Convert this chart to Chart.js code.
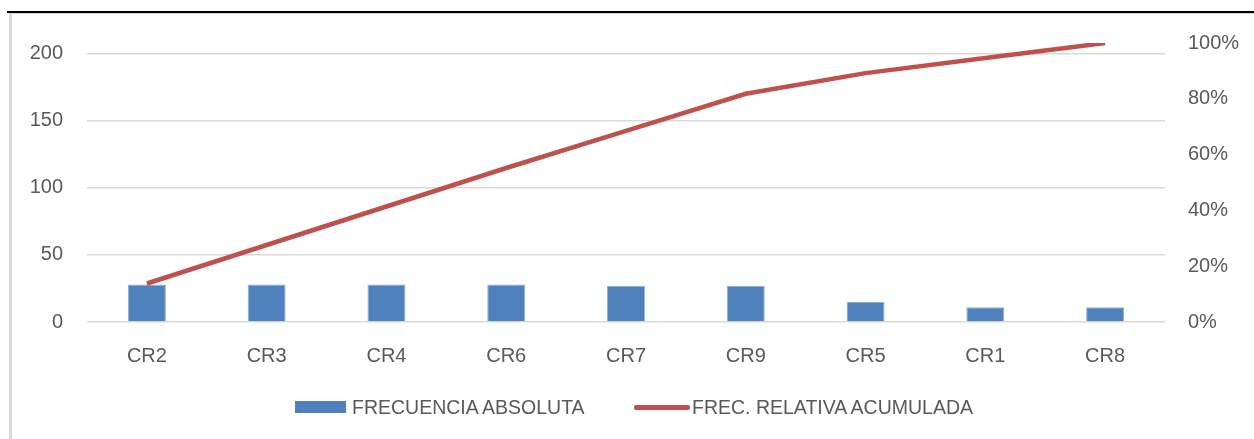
<!DOCTYPE html>
<html>
<head>
<meta charset="utf-8">
<script src="https://cdn.jsdelivr.net/npm/chart.js@4.4.1/dist/chart.umd.min.js"></script>
<style>
  html, body { margin: 0; padding: 0; background: #fff; }
  #wrap { position: relative; width: 1254px; height: 439px; overflow: hidden;
          font-family: 'Liberation Sans', Arial, sans-serif; }
  #frame { position: absolute; left: 9px; top: 12px; width: 1260px; height: 440px;
           border-left: 3px solid #d9d9d9; border-top: 2px solid #d9d9d9; }
  #topline { position: absolute; left: 7px; top: 11px; width: 1250px; height: 2px; background: #000; }
  #chart { position: absolute; left: 0; top: 0; }
  .lg-text { position: absolute; top: 395px; height: 24px; line-height: 24px;
             font-size: 19.5px; color: #595959; white-space: nowrap; }
  .lg-box { position: absolute; }
</style>
</head>
<body>
<div id="wrap">
  <div id="frame"></div>
  <div id="topline"></div>
  <canvas id="chart" width="1254" height="439"></canvas>
  <div id="legend"></div>
</div>
<script>
// data
const categories = ["CR2", "CR3", "CR4", "CR6", "CR7", "CR9", "CR5", "CR1", "CR8"];
const frecAbsoluta = [28, 28, 28, 28, 27, 27, 15, 11, 11];
const frecRelAcum = [0.138, 0.276, 0.414, 0.552, 0.685, 0.818, 0.892, 0.946, 1.0];
const leftTicks = [0, 50, 100, 150, 200];
const rightTicks = [0, 0.2, 0.4, 0.6, 0.8, 1.0];

const FONT = { family: "'Liberation Sans', Arial, sans-serif", size: 20 };
const TEXT = "#595959";

const chart = new Chart(document.getElementById("chart"), {
  data: {
    labels: categories,
    datasets: [
      {
        type: "bar",
        label: "FRECUENCIA ABSOLUTA",
        data: frecAbsoluta,
        backgroundColor: "#4f81bd",
        borderColor: "#8fb0d9",
        borderWidth: 1,
        barPercentage: 0.317,
        categoryPercentage: 1,
        yAxisID: "y",
        order: 1
      },
      {
        type: "line",
        label: "FREC. RELATIVA ACUMULADA",
        data: frecRelAcum,
        borderColor: "#c0504d",
        backgroundColor: "#c0504d",
        borderWidth: 4.5,
        pointRadius: 0,
        tension: 0,
        yAxisID: "y1",
        order: 0
      }
    ]
  },
  options: {
    responsive: false,
    animation: false,
    layout: { padding: { top: 43, bottom: 74, left: 24, right: 0 } },
    plugins: {
      tooltip: { enabled: false },
      legend: { display: false }
    },
    scales: {
      x: {
        offset: true,
        grid: { display: false },
        border: { display: false },
        ticks: { font: FONT, color: TEXT, padding: 14, maxRotation: 0 },
        afterFit: (scale) => { scale.height = 43; }
      },
      y: {
        position: "left",
        min: 0,
        max: 208,
        grid: { color: "#d9d9d9", lineWidth: 1.5, drawTicks: false },
        border: { display: false },
        ticks: { font: FONT, color: TEXT, padding: 24 },
        afterBuildTicks: (scale) => { scale.ticks = leftTicks.map(v => ({ value: v })); },
        afterFit: (scale) => { scale.width = 63; }
      },
      y1: {
        position: "right",
        min: 0,
        max: 1,
        grid: { display: false, drawTicks: false },
        border: { display: false },
        ticks: {
          font: FONT, color: TEXT, padding: 23,
          callback: (v) => Math.round(v * 100) + "%"
        },
        afterBuildTicks: (scale) => { scale.ticks = rightTicks.map(v => ({ value: v })); },
        afterFit: (scale) => { scale.width = 89; }
      }
    }
  }
});

// legend below the plot, built from the datasets
const legendX = [295, 634];
const legendEl = document.getElementById("legend");
chart.data.datasets.forEach((ds, i) => {
  const box = document.createElement("div");
  box.className = "lg-box";
  const x = legendX[i];
  if (ds.type === "line") {
    Object.assign(box.style, { left: x + "px", top: "405px", width: "56px", height: "4.5px",
      background: ds.borderColor, borderRadius: "2px" });
  } else {
    Object.assign(box.style, { left: x + "px", top: "401px", width: "51px", height: "12px",
      background: ds.backgroundColor });
  }
  const txt = document.createElement("div");
  txt.className = "lg-text";
  txt.style.left = (x + (ds.type === "line" ? 58 : 57)) + "px";
  txt.textContent = ds.label;
  legendEl.appendChild(box);
  legendEl.appendChild(txt);
});
</script>
</body>
</html>
